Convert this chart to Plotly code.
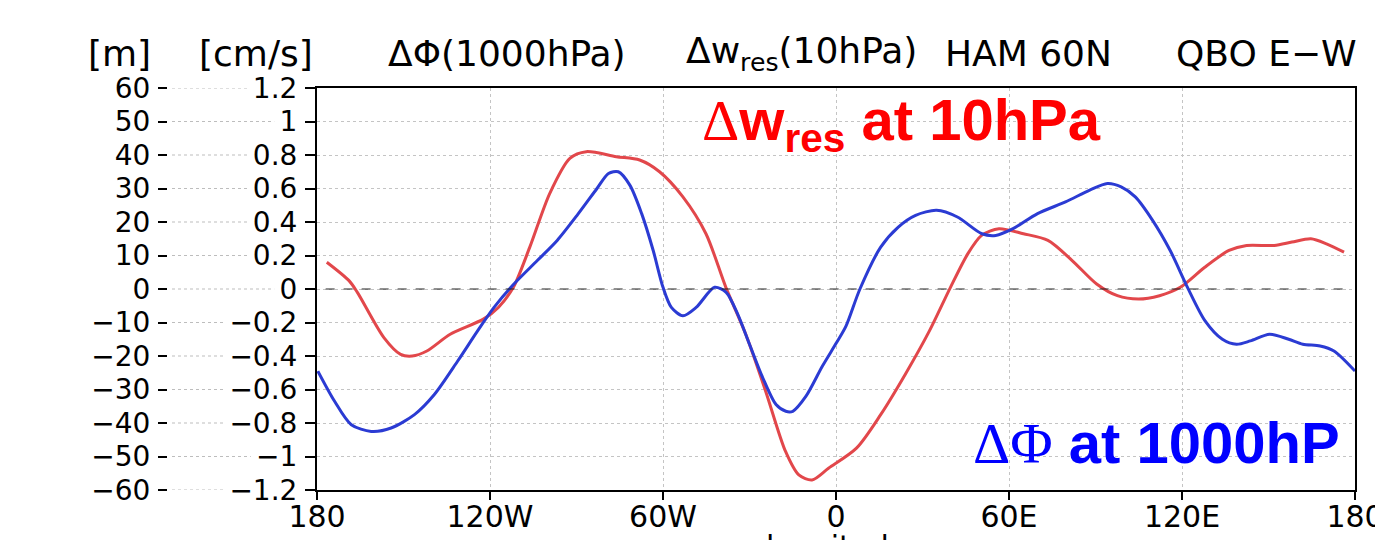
import plotly.graph_objects as go

# ---------------- data ----------------
red_lon = [-176.6, -168.9, -166.0, -156.8, -151.0, -147.0, -141.9, -133.8, -122.3, -117.1,
           -111.9, -106.2, -99.3, -92.3, -86.6, -76.2, -68.1, -61.2, -53.1, -45.1,
           -38.2, -31.3, -24.4, -17.5, -12.9, -8.3, -2.6, 7.1, 15.5, 24.0,
           32.4, 39.7, 45.7, 50.5, 56.5, 65.0, 73.5, 81.9, 90.4, 97.6,
           104.9, 112.2, 119.4, 127.9, 136.3, 142.4, 152.0, 158.1, 164.7, 170.1, 176.2]
red_dw = [0.16, 0.05, -0.02, -0.29, -0.39, -0.40, -0.37, -0.27, -0.18, -0.11,
          0.01, 0.25, 0.57, 0.78, 0.82, 0.79, 0.77, 0.70, 0.55, 0.33,
          0.01, -0.27, -0.61, -0.97, -1.11, -1.14, -1.07, -0.95, -0.75, -0.51,
          -0.25, 0.01, 0.21, 0.32, 0.36, 0.33, 0.29, 0.17, 0.03, -0.04,
          -0.06, -0.04, 0.01, 0.13, 0.23, 0.26, 0.26, 0.28, 0.30, 0.27, 0.22]

blue_lon = [-179.7, -173.9, -168.1, -161.2, -154.3, -146.2, -139.3, -131.2, -124.3, -118.6,
            -111.7, -103.6, -96.7, -89.8, -82.9, -78.9, -75.5, -71.5, -67.4, -63.4,
            -60.0, -57.1, -53.1, -48.5, -42.1, -38.1, -34.1, -30.0, -25.4, -20.8,
            -17.4, -15.0, -10.4, -4.7, 0.2, 3.5, 8.3, 15.5, 21.6, 27.6,
            34.9, 42.1, 50.6, 55.4, 61.4, 69.9, 79.6, 88.0, 94.1, 98.9,
            103.8, 109.8, 115.9, 121.9, 128.0, 134.0, 138.9, 143.7, 150.4, 157.0,
            161.9, 167.9, 172.7, 180.0]
blue_dphi = [-24.5, -33.5, -40.5, -42.5, -41.5, -37.5, -31.5, -21.5, -12.5, -5.5,
             1.5, 8.5, 14.5, 22.0, 30.0, 34.5, 35.0, 31.0, 22.5, 11.5,
             0.5, -5.5, -8.0, -5.5, 0.5, -1.0, -7.5, -16.5, -26.5, -34.5,
             -36.5, -36.5, -32.0, -23.0, -16.0, -11.0, 0.0, 12.5, 18.5, 22.0,
             23.5, 21.5, 16.5, 16.0, 18.0, 22.5, 26.0, 29.5, 31.5, 30.5,
             27.5, 20.5, 11.5, 0.5, -9.5, -15.0, -16.5, -15.5, -13.5, -15.0,
             -16.5, -17.0, -18.5, -24.5]

x_tickvals = [-180, -120, -60, 0, 60, 120, 180]
x_ticktext = ["180", "120W", "60W", "0", "60E", "120E", "180"]
cms_tickvals = [1.2, 1.0, 0.8, 0.6, 0.4, 0.2, 0.0, -0.2, -0.4, -0.6, -0.8, -1.0, -1.2]
cms_ticktext = ["1.2", "1", "0.8", "0.6", "0.4", "0.2", "0", "\u22120.2", "\u22120.4",
                "\u22120.6", "\u22120.8", "\u22121", "\u22121.2"]
m_tickvals = [60, 50, 40, 30, 20, 10, 0, -10, -20, -30, -40, -50, -60]
m_ticktext = ["60", "50", "40", "30", "20", "10", "0", "\u221210", "\u221220",
              "\u221230", "\u221240", "\u221250", "\u221260"]

# ---------------- layout geometry (pixels) ----------------
W, H = 1375, 540
L, R, T, B = 317, 20, 88, 50
PW, PH = W - L - R, H - T - B


def px(x):
    return (x - L) / PW


def py(y):
    return (H - B - y) / PH


TICKFONT = "DejaVu Sans"
RED_LINE = "#e2474b"
BLUE_LINE = "#2b3bd3"

fig = go.Figure()
fig.add_trace(go.Scatter(x=red_lon, y=red_dw, mode="lines", yaxis="y",
                         line=dict(color=RED_LINE, width=3, shape="spline", smoothing=0.8),
                         showlegend=False, hoverinfo="skip"))
fig.add_trace(go.Scatter(x=blue_lon, y=blue_dphi, mode="lines", yaxis="y2",
                         line=dict(color=BLUE_LINE, width=3, shape="spline", smoothing=0.8),
                         showlegend=False, hoverinfo="skip"))

shapes = []
# dashed zero line
shapes.append(dict(type="line", xref="x", yref="y", x0=-177, x1=177, y0=0, y1=0,
                   line=dict(color="#222222", width=1, dash="dash"), layer="above"))

# dotted guide lines between the two label columns
char_w = {"\u2212": 0.838, ".": 0.318}
for v, t in zip(cms_tickvals, cms_ticktext):
    wlab = sum(char_w.get(c, 0.636) for c in t) * 28
    x_end = 295 - wlab - 3
    shapes.append(dict(type="line", xref="paper", yref="y", x0=px(172), x1=px(x_end),
                       y0=v, y1=v, line=dict(color="#bdbdbd", width=1, dash="dot"),
                       layer="below"))

annotations = []
title_parts = [("[m]", 86), ("[cm/s]", 197), ("\u0394\u03a6(1000hPa)", 386),
               ("\u0394w<sub>res</sub>(10hPa)", 684), ("HAM 60N", 943), ("QBO E\u2212W", 1174)]
for txt, xpix in title_parts:
    annotations.append(dict(text=txt, xref="paper", yref="paper", x=px(xpix), y=py(53),
                            xanchor="left", yanchor="middle", showarrow=False,
                            font=dict(family=TICKFONT, size=36, color="black")))

serif = "<span style='font-family:Liberation Serif, Times New Roman, serif;font-weight:normal'>"
annotations.append(dict(text=serif + "\u0394</span>w<sub>res</sub> at 10hPa",
                        xref="paper", yref="paper", x=px(700), y=py(124),
                        xanchor="left", yanchor="middle", showarrow=False,
                        font=dict(family="Liberation Sans, Arial", size=58, color="#ff0000",
                                  weight="bold")))
annotations.append(dict(text=serif + "\u0394\u03a6</span> at 1000hP",
                        xref="paper", yref="paper", x=px(971), y=py(443),
                        xanchor="left", yanchor="middle", showarrow=False,
                        font=dict(family="Liberation Sans, Arial", size=58, color="#0000ff",
                                  weight="bold")))
annotations.append(dict(text="longitude", xref="paper", yref="paper", x=0.5, y=py(527),
                        xanchor="center", yanchor="top", showarrow=False,
                        font=dict(family=TICKFONT, size=30, color="black")))

fig.update_layout(
    template="none",
    width=W, height=H,
    margin=dict(l=L, r=R, t=T, b=B, pad=0, autoexpand=False),
    paper_bgcolor="white", plot_bgcolor="white",
    showlegend=False,
    xaxis=dict(range=[-180, 180], tickvals=x_tickvals, ticktext=x_ticktext,
               ticks="outside", ticklen=8, tickwidth=2, tickcolor="black",
               showline=True, mirror=True, linewidth=2, linecolor="black",
               showgrid=True, gridcolor="#c4c4c4", griddash="dot", gridwidth=1,
               zeroline=False, automargin=False, ticklabeloverflow="allow",
               ticklabelstandoff=-9,
               tickfont=dict(family=TICKFONT, size=30, color="black")),
    yaxis=dict(range=[-1.2, 1.2], tickvals=cms_tickvals, ticktext=cms_ticktext,
               ticks="outside", ticklen=10, tickwidth=2, tickcolor="black",
               showline=True, mirror=True, linewidth=2, linecolor="black",
               showgrid=True, gridcolor="#c4c4c4", griddash="dot", gridwidth=1,
               zeroline=False, automargin=False, ticklabeloverflow="allow",
               tickfont=dict(family=TICKFONT, size=28, color="black"),
               ticklabelstandoff=2),
    yaxis2=dict(range=[-60, 60], tickvals=m_tickvals, ticktext=m_ticktext,
                overlaying="y", anchor="free", position=0, shift=-150, autoshift=False,
                side="left", ticks="outside", ticklen=9, tickwidth=2, tickcolor="black",
                showline=False, showgrid=False, zeroline=False, automargin=False,
                ticklabeloverflow="allow",
                tickfont=dict(family=TICKFONT, size=28, color="black"),
                ticklabelstandoff=2),
    shapes=shapes,
    annotations=annotations,
)

fig.write_html("out.html")
